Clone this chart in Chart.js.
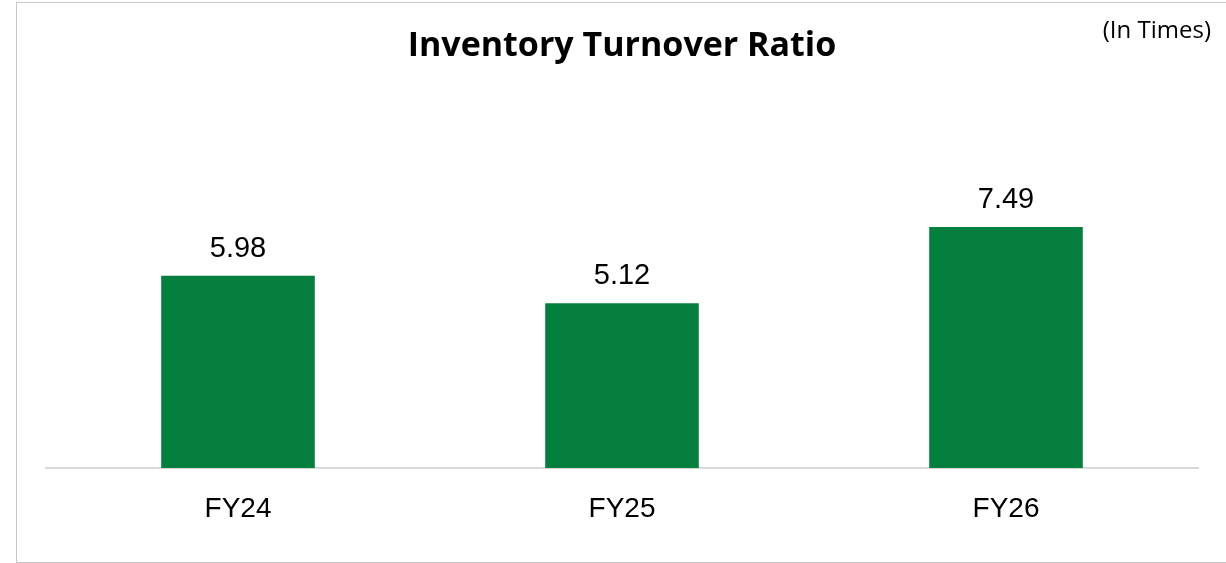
<!DOCTYPE html>
<html>
<head>
<meta charset="utf-8">
<script src="https://cdn.jsdelivr.net/npm/chart.js@4"></script>
<style>
    html, body { margin: 0; padding: 0; background: #fff; overflow: hidden; }
    #frame {
        position: absolute; left: 16px; top: 2px;
        width: 1220px; height: 559px;
        border: 1px solid #c8c8c8;
    }
    #chart { position: absolute; left: 0; top: 0; }
</style>
</head>
<body>
<div id="frame"></div>
<canvas id="chart" width="1226" height="563"></canvas>
<script>
const years = ['FY24', 'FY25', 'FY26']
const turnover = [5.98, 5.12, 7.49]
const unitNote = '(In Times)'

// value labels above the bars + unit note in the top right corner
const barLabels = {
    id: 'barLabels',
    afterDatasetsDraw: (chart) => {
        const ctx = chart.ctx
        ctx.save()
        ctx.font = '29px "Liberation Sans", Arial, sans-serif'
        ctx.fillStyle = '#000'
        ctx.textAlign = 'center'
        ctx.textBaseline = 'alphabetic'
        chart.getDatasetMeta(0).data.forEach((bar, i) => {
            ctx.fillText(turnover[i].toFixed(2), bar.x, bar.y - 19)
        })
        ctx.font = '24px "Open Sans", sans-serif'
        ctx.textAlign = 'right'
        ctx.fillText(unitNote, 1211, 38)
        ctx.restore()
    }
}

const chart = new Chart(document.getElementById('chart'), {
    type: 'bar',
    data: {
        labels: years,
        datasets: [{
            data: turnover,
            backgroundColor: '#047f3e',
            barPercentage: 0.8,
            categoryPercentage: 0.5
        }]
    },
    options: {
        responsive: false,
        animation: false,
        layout: {
            padding: { left: 46, right: 28, top: 0, bottom: 13.4 }
        },
        scales: {
            x: {
                grid: { display: false, drawTicks: false },
                border: { color: '#d9d9d9', width: 2 },
                ticks: {
                    padding: 24,
                    color: '#000',
                    font: { family: '"Liberation Sans", Arial, sans-serif', size: 28 }
                }
            },
            y: {
                display: false,
                min: 0,
                max: 10
            }
        },
        plugins: {
            legend: { display: false },
            tooltip: { enabled: false },
            title: {
                display: true,
                text: 'Inventory Turnover Ratio',
                color: '#000',
                font: { family: '"Open Sans", sans-serif', size: 34, weight: 'bold' },
                padding: { top: 26, bottom: 79.6 }
            }
        }
    },
    plugins: [barLabels]
})
</script>
</body>
</html>
